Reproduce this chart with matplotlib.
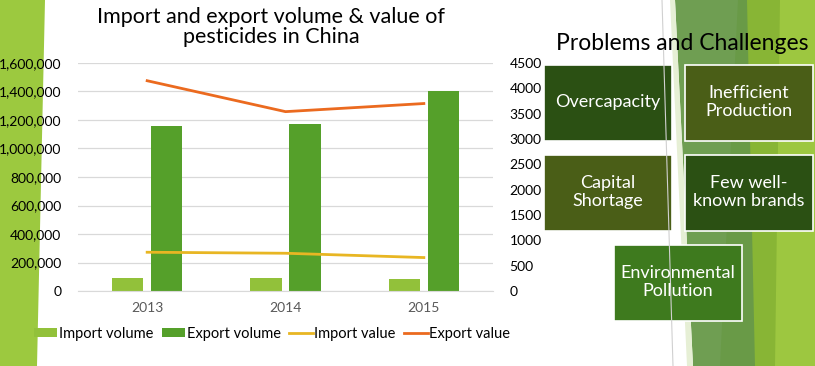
import numpy as np
import matplotlib.pyplot as plt
import matplotlib.patches as mpatches
from matplotlib.ticker import FuncFormatter

plt.rcParams['font.family'] = ['Lato', 'DejaVu Sans']

# Data
years = ['2013', '2014', '2015']
import_volume = [90000, 90000, 85000]
export_volume = [1160000, 1175000, 1400000]
import_value = [765, 745, 660]
export_value = [4150, 3540, 3700]

problems = ['Overcapacity', 'Inefficient\nProduction', 'Capital\nShortage',
            'Few well-\nknown brands', 'Environmental\nPollution']

W, H = 815, 366
fig = plt.figure(figsize=(W / 100, H / 100), dpi=100)

# background decorations, drawn in pixel coords (y down)
bg = fig.add_axes([0, 0, 1, 1], zorder=0)
bg.set_xlim(0, W)
bg.set_ylim(H, 0)
bg.axis('off')
bg.add_patch(mpatches.Polygon([(0, 0), (45, 0), (37, H), (0, H)], color='#9CC93F', lw=0))
bg.add_patch(mpatches.Polygon([(675, 0), (W, 0), (W, H), (693, H)], color='#6F9E52', lw=0))
bg.add_patch(mpatches.Polygon([(738, 0), (W, 0), (W, H), (720, H)], color='#699A47', lw=0))
bg.add_patch(mpatches.Polygon([(747, 0), (W, 0), (W, H), (755, H)], color='#88B535', lw=0))
bg.add_patch(mpatches.Polygon([(780, 0), (W, 0), (W, H), (775, H)], color='#9DC740', lw=0))
bg.add_patch(mpatches.Polygon([(670, 0), (675, 0), (693, H), (687, H)], color='#E6EFD5', lw=0))
bg.plot([662, 673], [0, H], color='#D0D0D0', lw=0.8)

# boxes on the right
boxes = [(544, 65, '#2B5013'), (685, 65, '#4A5E17'), (544, 155, '#4A5E17'),
         (685, 155, '#2B5013'), (614, 245, '#3E7A1E')]
for (bx, by, col), txt in zip(boxes, problems):
    bg.add_patch(mpatches.Rectangle((bx, by), 128, 76, facecolor=col, edgecolor='white', lw=1.2))
    bg.text(bx + 64, by + 37, txt, color='white', ha='center', va='center',
            fontsize=13, linespacing=1.2)
bg.text(682, 43, 'Problems and Challenges', ha='center', va='center', fontsize=16.5, color='black')

# chart
ax = fig.add_axes([78 / W, 1 - 291 / H, (493 - 78) / W, (291 - 63) / H], zorder=2)
ax.patch.set_alpha(0)
x = np.arange(len(years))
ax.bar(x - 0.141, import_volume, width=0.225, color='#92C13A', label='Import volume', zorder=2)
ax.bar(x + 0.141, export_volume, width=0.225, color='#55A02A', label='Export volume', zorder=2)
ax.set_xlim(-0.5, 2.5)
ax.set_ylim(0, 1600000)
ax.set_yticks(np.arange(0, 1600001, 200000))
ax.yaxis.set_major_formatter(FuncFormatter(lambda v, p: f'{int(v):,}'))
ax.set_xticks(x)
ax.set_xticklabels(years, color='#595959')
ax.grid(axis='y', color='#D9D9D9', lw=0.9, zorder=0)
ax.tick_params(length=0, labelsize=10, pad=12)
ax.tick_params(axis='x', pad=8)
for s in ax.spines.values():
    s.set_visible(False)
ax.spines['bottom'].set_visible(True)
ax.spines['bottom'].set_color('#D9D9D9')

ax2 = ax.twinx()
ax2.plot(x, import_value, color='#E8B623', lw=2, label='Import value', zorder=3)
ax2.plot(x, export_value, color='#EB6A1F', lw=2, label='Export value', zorder=3)
ax2.set_ylim(0, 4500)
ax2.set_yticks(np.arange(0, 4501, 500))
ax2.tick_params(length=0, labelsize=10, pad=12)
for s in ax2.spines.values():
    s.set_visible(False)

fig.text(271 / W, 1 - 27 / H, 'Import and export volume & value of\npesticides in China',
         ha='center', va='center', fontsize=15.5, linespacing=1.05)

h1, l1 = ax.get_legend_handles_labels()
h2, l2 = ax2.get_legend_handles_labels()
fig.legend(h1 + h2, l1 + l2, loc='center', bbox_to_anchor=(272 / W, 1 - 334 / H), ncol=4,
           frameon=False, fontsize=10.5, handlelength=1.6, handletextpad=0.1, columnspacing=0.6,
           handleheight=0.6)

fig.savefig('out.png', dpi=100)
